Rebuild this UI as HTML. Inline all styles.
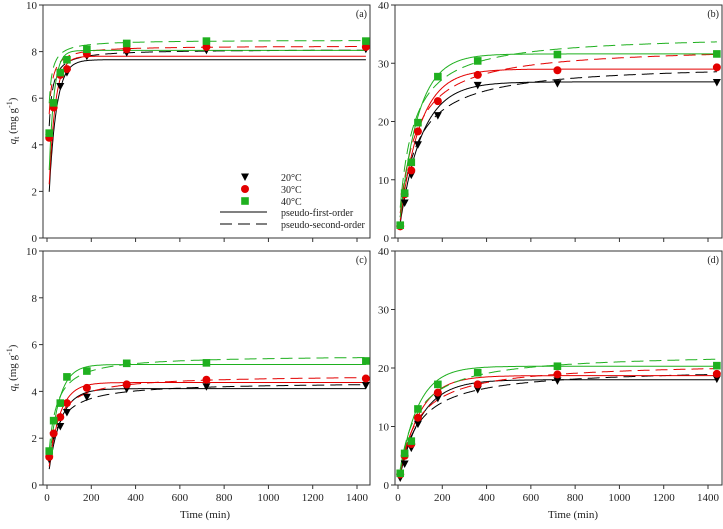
<!DOCTYPE html>
<html><head><meta charset="utf-8"><style>
body{margin:0;background:#fff;}
svg text{font-family:"Liberation Serif",serif;}
</style></head><body>
<svg id="c" width="723" height="524" xmlns="http://www.w3.org/2000/svg"></svg>
<script>
const times=[10,30,60,90,180,360,720,1440];
const seriesNames=['20°C','30°C','40°C'];
const colors=['#000','#e30000','#1fb01f'];
const yMaxes=[10,40,10,40];
const yTicksSmall=[0,2,4,6,8,10];
const yTicksBig=[0,10,20,30,40];
const xTicks=[0,200,400,600,800,1000,1200,1400];
const panelLabels=['(a)','(b)','(c)','(d)'];
const dataA=[[4.3,5.6,6.5,7.1,7.8,7.95,8.05,8.1],[4.3,5.6,7.0,7.25,7.9,8.1,8.2,8.2],[4.5,5.8,7.1,7.65,8.1,8.35,8.45,8.45]];
const dataB=[[2,6,10.8,16,21,26.2,26.5,26.7],[2,7.5,11.6,18.3,23.5,28,28.8,29.3],[2.2,7.7,13,19.8,27.7,30.4,31.5,31.6]];
const dataC=[[1.1,2.1,2.5,3.1,3.75,4.1,4.2,4.25],[1.2,2.2,2.9,3.5,4.15,4.3,4.5,4.55],[1.45,2.75,3.5,4.62,4.87,5.2,5.22,5.3]];
const dataD=[[1.2,3.6,6.3,10.4,14.8,16.3,17.8,18.1],[1.8,5,7,11.5,15.8,17.2,18.9,19],[2,5.4,7.5,13,17.2,19.2,20.3,20.4]];
const pfoQe=[[7.65,7.8,8.05],[26.8,29,31.6],[4.12,4.38,5.15],[18,18.7,20.3]];
const pfoK=[[0.03,0.035,0.045],[0.010,0.011,0.012],[0.018,0.02,0.022],[0.01,0.011,0.012]];
const psoQe=[[8.1,8.25,8.5],[30,33,35],[4.4,4.7,5.55],[20,21,22.6]];
const psoK=[[0.018,0.022,0.025],[0.00045,0.00045,0.0005],[0.006,0.006,0.0065],[0.0006,0.0006,0.0006]];
const allData=[dataA,dataB,dataC,dataD];

const NS='http://www.w3.org/2000/svg';
const svg=document.getElementById('c');
function mk(tag,attrs,parent){const e=document.createElementNS(NS,tag);for(const k in attrs)e.setAttribute(k,attrs[k]);(parent||svg).appendChild(e);return e;}
const panels=[{l:43,r:370,t:5,b:238,x0:47},{l:395,r:722,t:5,b:238,x0:398},{l:43,r:370,t:251,b:485,x0:47},{l:395,r:722,t:251,b:485,x0:398}];
const pxPerMin=(357-47)/1400;
function marker(s,cx,cy,parent){
  if(s===0)return mk('path',{d:`M${cx-4},${cy-3.5}L${cx+4},${cy-3.5}L${cx},${cy+4}Z`,fill:colors[0]},parent);
  if(s===1)return mk('circle',{cx:cx,cy:cy,r:4,fill:colors[1]},parent);
  return mk('rect',{x:cx-3.8,y:cy-3.8,width:7.6,height:7.6,fill:colors[2]},parent);
}
panels.forEach((p,pi)=>{
  const g=mk('g',{});
  
  
  const X=t=>p.x0+t*pxPerMin;
  const Y=v=>p.b-v/yMaxes[pi]*(p.b-p.t);
  const fr=mk('rect',{x:p.l,y:p.t,width:p.r-p.l,height:p.b-p.t,fill:'none',stroke:'#333','stroke-width':1},g);
  
  
  const yt=yMaxes[pi]===10?yTicksSmall:yTicksBig;
  yt.forEach(v=>{
    mk('line',{x1:p.l-4,x2:p.l,y1:Y(v),y2:Y(v),stroke:'#333'},g);
    const t=mk('text',{x:p.l-6,y:Y(v)+4,'text-anchor':'end','font-size':11,fill:'#222'},g);
    t.textContent=v;
    
    
  });
  xTicks.forEach(v=>{
    mk('line',{x1:X(v),x2:X(v),y1:p.b,y2:p.b+4,stroke:'#333'},g);
    if(pi>=2){const t=mk('text',{x:X(v),y:p.b+16,'text-anchor':'middle','font-size':11,fill:'#222'},g);t.textContent=v;
      
      }
  });
  const pl=mk('text',{x:p.r-3,y:p.t+12,'text-anchor':'end','font-size':10,fill:'#222'},g);
  pl.textContent=panelLabels[pi];
  
  
  for(let s=0;s<3;s++){
    let d1='',d2='';
    for(let t=10;t<=1440;t+=2){
      const q1=pfoQe[pi][s]*(1-Math.exp(-pfoK[pi][s]*t));
      const a=psoQe[pi][s]*psoK[pi][s]*t;const q2=psoQe[pi][s]*a/(1+a);
      d1+=(d1?'L':'M')+X(t).toFixed(1)+','+Y(q1).toFixed(1);
      d2+=(d2?'L':'M')+X(t).toFixed(1)+','+Y(q2).toFixed(1);
    }
    const l1=mk('path',{d:d1,fill:'none',stroke:colors[s],'stroke-width':1},g);
    
    
    const l2=mk('path',{d:d2,fill:'none',stroke:colors[s],'stroke-width':1,'stroke-dasharray':'12,6'},g);
    
    
  }
  for(let s=0;s<3;s++){
    allData[pi][s].forEach((v,i)=>{
      const m=marker(s,X(times[i]),Y(v),g);
      
      
    });
  }
});
[[12,121],[12,368]].forEach(([x,y])=>{
  const t=mk('text',{transform:`translate(${x+4},${y}) rotate(-90)`,'text-anchor':'middle','font-size':11,fill:'#222'});
  t.innerHTML='<tspan font-style="italic">q</tspan><tspan font-size="8" dy="3">t</tspan><tspan dy="-3"> (mg g</tspan><tspan font-size="8" dy="-4">-1</tspan><tspan dy="4">)</tspan>';
  
  
});
[[205,518],[573,518]].forEach(([x,y])=>{
  const t=mk('text',{x:x,y:y,'text-anchor':'middle','font-size':11,fill:'#222'});t.textContent='Time (min)';
  
  
});
const lg=mk('g',{});


const ly=[177,189,201];
for(let s=0;s<3;s++){
  marker(s,245,ly[s],lg);
  const t=mk('text',{x:281,y:ly[s]+4,'font-size':10,fill:'#222'},lg);t.textContent=seriesNames[s];
  
  
}
mk('line',{x1:220,x2:267,y1:212,y2:212,stroke:'#000'},lg);
mk('line',{x1:220,x2:267,y1:224,y2:224,stroke:'#000','stroke-dasharray':'12,6'},lg);
const t1=mk('text',{x:281,y:216,'font-size':10,fill:'#222'},lg);t1.textContent='pseudo-first-order';


const t2=mk('text',{x:281,y:228,'font-size':10,fill:'#222'},lg);t2.textContent='pseudo-second-order';


</script>
</body></html>
